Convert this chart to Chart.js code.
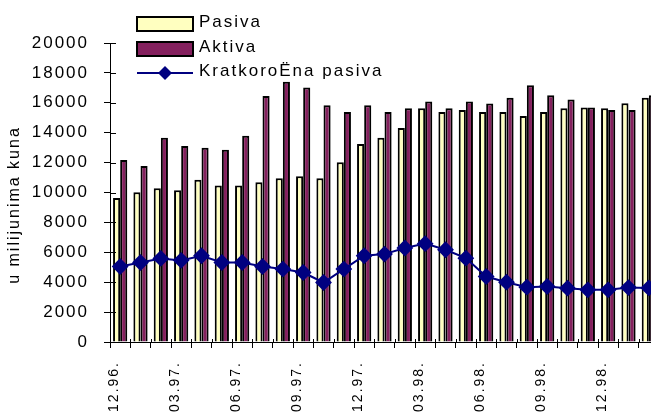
<!DOCTYPE html>
<html>
<head>
<meta charset="utf-8">
<script src="https://cdn.jsdelivr.net/npm/chart.js@4.4.1/dist/chart.umd.min.js"></script>
<style>
  body { margin: 0; background: #fff; overflow: hidden; }
  #wrap { width: 651px; height: 417px; overflow: hidden; }
</style>
</head>
<body>
<div id="wrap"><canvas id="myChart" width="668" height="417"></canvas></div>
<script>
const months = ['12.96.','01.97.','02.97.','03.97.','04.97.','05.97.','06.97.','07.97.','08.97.',
  '09.97.','10.97.','11.97.','12.97.','01.98.','02.98.','03.98.','04.98.','05.98.','06.98.',
  '07.98.','08.98.','09.98.','10.98.','11.98.','12.98.','01.99.','02.99.'];
const pasiva = [9640,10020,10290,10150,10850,10470,10470,10690,10960,11090,10960,12030,13240,
  13670,14310,15630,15390,15520,15390,15390,15120,15390,15630,15680,15630,15970,16330];
const aktiva = [12170,11770,13670,13110,13000,12860,13800,16460,17400,17020,15840,15390,15840,
  15390,15630,16080,15630,16080,15950,16330,17180,16510,16220,15680,15520,15520,16510];
const kratkorocna = [5050,5320,5590,5460,5770,5320,5320,5050,4880,4650,3980,4880,5770,
  5880,6290,6580,6170,5610,4380,4000,3670,3710,3600,3490,3490,3640,3620];
const seriesNames = ['Pasiva', 'Aktiva', 'KratkoroËna pasiva'];

const FONT = 'Liberation Sans, Arial, sans-serif';
const SPACING = '2px';

// letter spacing on the canvas, plus inner tick marks, legend and y title
const extras = {
  id: 'extras',
  beforeLayout(chart) { chart.ctx.letterSpacing = SPACING; },
  beforeDraw(chart) { chart.ctx.letterSpacing = SPACING; },
  afterDraw(chart) {
    const ctx = chart.ctx;
    const x = chart.scales.x, y = chart.scales.y;
    ctx.save();
    ctx.strokeStyle = '#000';
    ctx.lineWidth = 1;
    ctx.beginPath();
    y.ticks.forEach((t, i) => {
      const py = Math.round(y.getPixelForTick(i)) + 0.5;
      ctx.moveTo(x.left, py); ctx.lineTo(x.left + 6, py);
    });
    const w = (x.right - x.left) / months.length;
    for (let i = 1; i < months.length; i++) {
      const px = Math.round(x.left + i * w) + 0.5;
      ctx.moveTo(px, y.bottom); ctx.lineTo(px, y.bottom - 3);
    }
    ctx.stroke();

    // legend
    ctx.font = '17px ' + FONT;
    ctx.fillStyle = '#000';
    ctx.textBaseline = 'middle';
    ctx.textAlign = 'left';
    const ds = chart.data.datasets;
    [[ds[0], 24], [ds[1], 49]].forEach(([d, cy]) => {
      ctx.fillStyle = d.backgroundColor;
      ctx.fillRect(137, cy - 7, 56, 14);
      ctx.lineWidth = 2;
      ctx.strokeRect(137, cy - 7, 56, 14);
      ctx.fillStyle = '#000';
      ctx.fillText(d.label, 199, cy - 2);
    });
    ctx.strokeStyle = ds[2].borderColor;
    ctx.lineWidth = 2;
    ctx.beginPath(); ctx.moveTo(137, 73); ctx.lineTo(193, 73); ctx.stroke();
    ctx.fillStyle = ds[2].borderColor;
    ctx.beginPath();
    ctx.moveTo(165, 66); ctx.lineTo(172, 73); ctx.lineTo(165, 80); ctx.lineTo(158, 73);
    ctx.closePath(); ctx.fill();
    ctx.fillStyle = '#000';
    ctx.fillText(ds[2].label, 199, 71);

    // y axis title
    ctx.font = '16px ' + FONT;
    ctx.translate(15, 205);
    ctx.rotate(-Math.PI / 2);
    ctx.textAlign = 'center';
    ctx.fillText('u milijunima kuna', 0, 0);
    ctx.restore();
  }
};

const ctx = document.getElementById('myChart').getContext('2d');
const myChart = new Chart(ctx, {
  type: 'bar',
  data: {
    labels: months,
    datasets: [
      {
        label: seriesNames[0],
        data: pasiva,
        backgroundColor: '#FFFFC0',
        borderColor: '#000',
        borderWidth: 2,
        categoryPercentage: 0.7,
        barPercentage: 1.0,
        order: 1
      },
      {
        label: seriesNames[1],
        data: aktiva,
        backgroundColor: '#84205E',
        borderColor: '#000',
        borderWidth: 2,
        categoryPercentage: 0.7,
        barPercentage: 1.0,
        order: 1
      },
      {
        type: 'line',
        label: seriesNames[2],
        data: kratkorocna,
        borderColor: '#000080',
        backgroundColor: '#000080',
        borderWidth: 2,
        pointStyle: 'rectRot',
        pointRadius: 7,
        pointHoverRadius: 7,
        tension: 0,
        order: 0
      }
    ]
  },
  options: {
    responsive: false,
    animation: false,
    layout: { padding: { top: 43, right: 4, left: 0, bottom: 0 } },
    plugins: { legend: { display: false }, tooltip: { enabled: false } },
    scales: {
      x: {
        afterFit(scale) {
          scale.height = 75;
          scale.paddingLeft = 0;
          scale.paddingRight = 0;
        },
        grid: { display: true, drawOnChartArea: false, offset: true, tickLength: 6, color: '#000' },
        border: { color: '#000', width: 1 },
        ticks: {
          autoSkip: false,
          minRotation: 90,
          maxRotation: 90,
          padding: 13,
          labelOffset: -6,
          color: '#000',
          font: { family: FONT, size: 14 },
          callback(value, index) { return index % 3 === 0 ? months[index] : ''; }
        }
      },
      y: {
        min: 0,
        max: 20000,
        afterFit(scale) { scale.width = 110; },
        grid: { display: true, drawOnChartArea: false, tickLength: 6, color: '#000' },
        border: { color: '#000', width: 1 },
        ticks: {
          stepSize: 2000,
          padding: 15,
          color: '#000',
          font: { family: FONT, size: 17 },
          callback(value) { return String(value); }
        }
      }
    }
  },
  plugins: [extras]
});
</script>
</body>
</html>
